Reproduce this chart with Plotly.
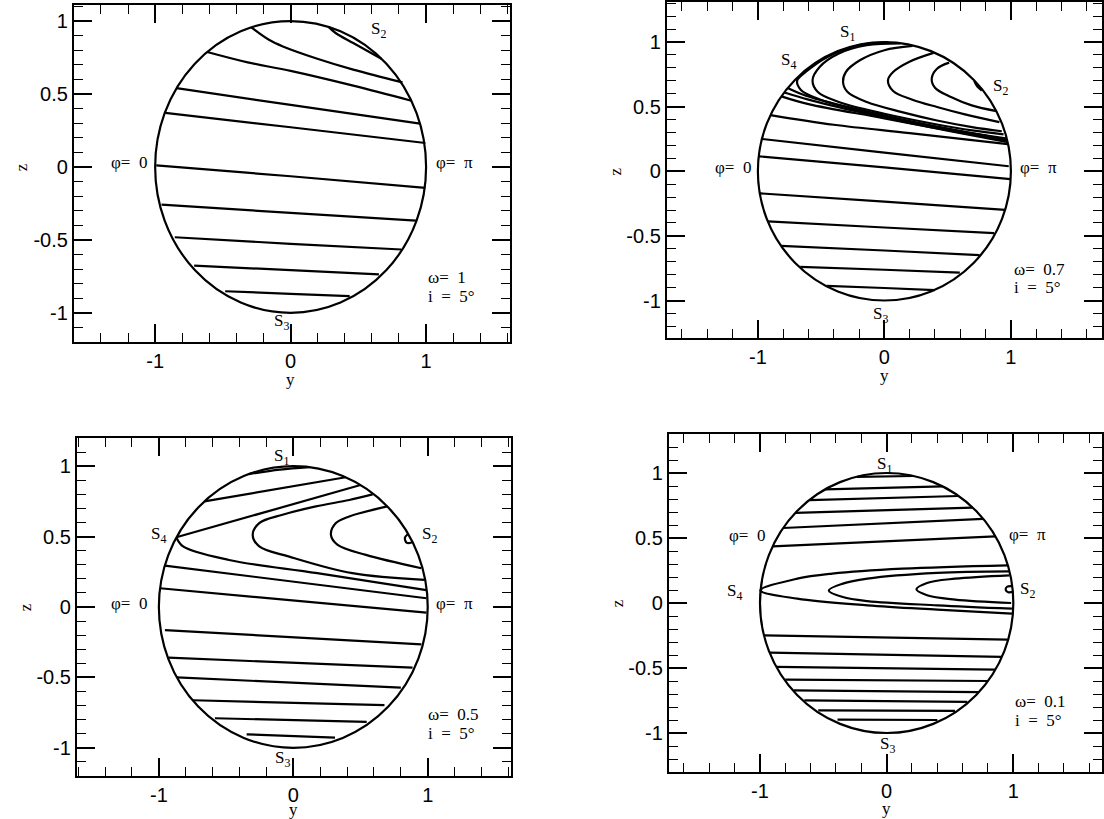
import plotly.graph_objects as go

# ---------------- data (y, z) ----------------
# Panel 1: omega = 1
P1_Y = [
    [-0.29, -0.16, -0.057, 0.203, 0.462, 0.826],
    [0.28, 0.332, 0.462, 0.67],
    [-0.616, -0.317, 0.0, 0.462, 0.891],
    [-0.842, 0.0, 0.956],
    [-0.925, 0.0, 0.995],
    [-0.992, 0.0, 0.995],
    [-0.953, 0.0, 0.925],
    [-0.855, 0.0, 0.818],
    [-0.712, 0.0, 0.652],
    [-0.483, 0.0, 0.436],
]
P1_Z = [
    [0.957, 0.872, 0.826, 0.74, 0.667, 0.58],
    [0.96, 0.918, 0.849, 0.742],
    [0.788, 0.717, 0.658, 0.557, 0.454],
    [0.54, 0.425, 0.297],
    [0.37, 0.272, 0.164],
    [0.011, -0.064, -0.144],
    [-0.258, -0.315, -0.368],
    [-0.482, -0.527, -0.566],
    [-0.676, -0.708, -0.737],
    [-0.852, -0.87, -0.886],
]

# Panel 2: omega = 0.7
P2_Y = [
    [0.512, 0.416, 0.374, 0.40, 0.526, 0.69, 0.886],
    [0.388, 0.194, 0.069, 0.028, 0.069, 0.222, 0.416, 0.637, 0.909],
    [0.222, 0.0, -0.194, -0.305, -0.327, -0.291, -0.139, 0.139, 0.416, 0.693, 0.928],
    [0.125, -0.139, -0.36, -0.512, -0.568, -0.526, -0.36, 0.0, 0.416, 0.693, 0.942],
    [0.03, -0.2, -0.45, -0.62, -0.69, -0.66, -0.52, -0.2, 0.2, 0.6, 0.96],
    [-0.765, -0.62, -0.3, 0.1, 0.5, 0.965],
    [-0.79, -0.6, -0.2, 0.3, 0.97],
    [-0.815, -0.6, 0.0, 0.5, 0.975],
    [-0.90, -0.4, 0.2, 0.975],
    [-0.965, 0.0, 0.983],
    [-0.993, 0.0, 0.997],
    [-0.983, 0.0, 0.956],
    [-0.922, 0.0, 0.867],
    [-0.817, 0.0, 0.753],
    [-0.665, 0.0, 0.596],
    [-0.457, 0.0, 0.40],
    [0.71, 0.735, 0.77],
]
P2_Z = [
    [0.841, 0.794, 0.717, 0.647, 0.574, 0.51, 0.466],
    [0.916, 0.846, 0.768, 0.704, 0.621, 0.554, 0.497, 0.44, 0.38],
    [0.97, 0.937, 0.859, 0.768, 0.691, 0.613, 0.536, 0.458, 0.393, 0.342, 0.31],
    [0.99, 0.975, 0.911, 0.807, 0.704, 0.613, 0.536, 0.445, 0.362, 0.316, 0.285],
    [0.997, 0.975, 0.885, 0.77, 0.70, 0.63, 0.56, 0.47, 0.38, 0.31, 0.255],
    [0.645, 0.585, 0.50, 0.41, 0.33, 0.245],
    [0.61, 0.555, 0.46, 0.355, 0.235],
    [0.58, 0.52, 0.41, 0.315, 0.225],
    [0.435, 0.36, 0.295, 0.21],
    [0.25, 0.145, 0.039],
    [0.116, 0.03, -0.06],
    [-0.171, -0.235, -0.298],
    [-0.388, -0.435, -0.479],
    [-0.577, -0.613, -0.649],
    [-0.74, -0.762, -0.784],
    [-0.887, -0.903, -0.92],
    [0.70, 0.655, 0.625],
]

# Panel 3: omega = 0.5
P3_Y = [
    [-0.33, -0.1, 0.12],
    [-0.661, 0.39],
    [0.50, -0.87],
    [-0.87, -0.82, -0.478, 0.178, 0.99],
    [0.59, 0.416, 0.168, -0.08, -0.253, -0.302, -0.253, -0.03, 0.44, 0.979],
    [0.70, 0.416, 0.317, 0.28, 0.33, 0.54, 0.953],
    [-0.956, 0.99],
    [-0.991, 0.99],
    [-0.955, 0.953],
    [-0.929, 0.887],
    [-0.866, 0.80],
    [-0.746, 0.678],
    [-0.583, 0.546],
    [-0.347, 0.31],
    [0.855, 0.83, 0.845, 0.885],
]
P3_Z = [
    [0.944, 0.975, 0.993],
    [0.75, 0.921],
    [0.866, 0.495],
    [0.495, 0.43, 0.334, 0.24, 0.12],
    [0.80, 0.76, 0.714, 0.655, 0.596, 0.512, 0.43, 0.358, 0.24, 0.192],
    [0.714, 0.643, 0.596, 0.512, 0.441, 0.37, 0.275],
    [0.294, 0.062],
    [0.133, -0.04],
    [-0.164, -0.265],
    [-0.36, -0.43],
    [-0.50, -0.572],
    [-0.662, -0.697],
    [-0.79, -0.816],
    [-0.904, -0.927],
    [0.52, 0.49, 0.455, 0.46],
]

# Panel 4: omega = 0.1
P4_Y = [
    [-0.235, 0.208],
    [-0.485, 0.443],
    [-0.61, 0.568],
    [-0.72, 0.679],
    [-0.817, 0.762],
    [-0.90, 0.859],
    [0.956, 0.125, -0.43, -0.706, -0.997, -0.706, -0.152, 0.40, 0.989],
    [0.97, 0.40, -0.152, -0.346, -0.457, -0.346, -0.152, 0.40, 0.989],
    [0.97, 0.54, 0.319, 0.235, 0.319, 0.54, 0.983],
    [0.99, 0.95, 0.94, 0.96, 0.995],
    [-0.968, 0.956],
    [-0.924, 0.91],
    [-0.871, 0.858],
    [-0.80, 0.80],
    [-0.734, 0.728],
    [-0.65, 0.637],
    [-0.54, 0.54],
    [-0.388, 0.40],
]
P4_Z = [
    [0.97, 0.977],
    [0.874, 0.897],
    [0.792, 0.823],
    [0.694, 0.734],
    [0.577, 0.647],
    [0.436, 0.512],
    [0.29, 0.264, 0.226, 0.187, 0.097, 0.033, -0.018, -0.051, -0.082],
    [0.243, 0.231, 0.187, 0.149, 0.097, 0.046, 0.015, -0.018, -0.044],
    [0.213, 0.187, 0.154, 0.105, 0.059, 0.026, 0.0],
    [0.13, 0.125, 0.10, 0.083, 0.085],
    [-0.249, -0.282],
    [-0.382, -0.415],
    [-0.492, -0.513],
    [-0.59, -0.60],
    [-0.672, -0.685],
    [-0.749, -0.76],
    [-0.826, -0.83],
    [-0.897, -0.90],
]

CIRCLE_R = 1.0
XTICKS = [-1, 0, 1]
XTICKTEXT = ["-1", "0", "1"]
YTICKS = [-1, -0.5, 0, 0.5, 1]
YTICKTEXT = ["-1", "-0.5", "0", "0.5", "1"]
OMEGA_TEXT = ["\u03c9=\u00a0 1", "\u03c9=\u00a0 0.7", "\u03c9=\u00a0 0.5", "\u03c9=\u00a0 0.1"]
INCL_TEXT = "i\u00a0 = \u00a05\u00b0"
PHI0_TEXT = "\u03c6=\u00a0 0"
PHIPI_TEXT = "\u03c6=\u00a0 \u03c0"

# ---------------- figure ----------------
W, H = 1104, 819
# plot boxes in pixels: left, right, top, bottom
BOXES = [(74, 511, 5, 342), (668, 1104, 2, 338), (77, 512, 438, 776), (670, 1104, 434, 772)]
XRANGES = [[-1.6, 1.62], [-1.72, 1.72], [-1.61, 1.62], [-1.72, 1.70]]
YRANGES = [[-1.2, 1.11], [-1.29, 1.31], [-1.2, 1.2], [-1.3, 1.3]]
YTITLE_SHIFT = [-37, -37, -33, -36]

fig = go.Figure()
panels = [(P1_Y, P1_Z), (P2_Y, P2_Z), (P3_Y, P3_Z), (P4_Y, P4_Z)]
for k, (ys, zs) in enumerate(panels):
    sfx = "" if k == 0 else str(k + 1)
    for yy, zz in zip(ys, zs):
        fig.add_trace(go.Scatter(x=yy, y=zz, mode="lines", xaxis="x" + sfx, yaxis="y" + sfx,
                                 line=dict(color="black", width=2.2, shape="spline", smoothing=1.0),
                                 showlegend=False, hoverinfo="skip"))

tickfont = dict(family="Liberation Sans, Arial, sans-serif", size=20, color="black")
lab = dict(family="Liberation Serif, Times New Roman, serif", size=17, color="black")

layout = dict(width=W, height=H, margin=dict(l=0, r=0, t=0, b=0), plot_bgcolor="white",
              paper_bgcolor="white", showlegend=False, shapes=[], annotations=[])
for k in range(4):
    sfx = "" if k == 0 else str(k + 1)
    l, r, t, b = BOXES[k]
    xa = dict(domain=[l / W, r / W], range=XRANGES[k], anchor="y" + sfx,
              showline=True, linecolor="black", linewidth=2, mirror="ticks",
              ticks="inside", ticklen=18, tickwidth=1.5, tickcolor="black",
              tickmode="array", tickvals=XTICKS, ticktext=XTICKTEXT,
              minor=dict(tickmode="linear", tick0=0, dtick=0.2, ticks="inside", ticklen=9,
                         tickwidth=1.3, tickcolor="black", showgrid=False),
              showgrid=False, zeroline=False, tickfont=tickfont, fixedrange=True)
    ya = dict(domain=[1 - b / H, 1 - t / H], range=YRANGES[k], anchor="x" + sfx,
              showline=True, linecolor="black", linewidth=2, mirror="ticks",
              ticks="inside", ticklen=18, tickwidth=1.5, tickcolor="black",
              tickmode="array", tickvals=YTICKS, ticktext=YTICKTEXT,
              minor=dict(tickmode="linear", tick0=0, dtick=0.1, ticks="inside", ticklen=9,
                         tickwidth=1.3, tickcolor="black", showgrid=False),
              showgrid=False, zeroline=False, tickfont=tickfont, fixedrange=True)
    layout["xaxis" + sfx] = xa
    layout["yaxis" + sfx] = ya
    layout["shapes"].append(dict(type="circle", xref="x" + sfx, yref="y" + sfx,
                                 x0=-CIRCLE_R, x1=CIRCLE_R, y0=-CIRCLE_R, y1=CIRCLE_R,
                                 line=dict(color="black", width=2.2)))
    # axis titles
    layout["annotations"].append(dict(text="y", x=0, xref="x" + sfx, y=0, yref="y" + sfx + " domain",
                                      yanchor="middle", yshift=YTITLE_SHIFT[k], showarrow=False, font=lab))
    layout["annotations"].append(dict(text="z", x=0, xref="x" + sfx + " domain", xshift=-63,
                                      y=0, yref="y" + sfx, textangle=-90, showarrow=False, font=lab))

def ann(k, text, x, y, xanchor="center"):
    sfx = "" if k == 0 else str(k + 1)
    layout["annotations"].append(dict(text=text, x=x, y=y, xref="x" + sfx, yref="y" + sfx,
                                      xanchor=xanchor, yanchor="middle", showarrow=False, font=lab))

S = lambda n: "S<sub>%d</sub>" % n
# panel 1
ann(0, S(2), 0.65, 0.94)
ann(0, PHI0_TEXT, -1.19, 0.03)
ann(0, PHIPI_TEXT, 1.21, 0.03)
ann(0, S(3), -0.07, -1.06)
ann(0, OMEGA_TEXT[0], 1.0, -0.76, "left")
ann(0, INCL_TEXT, 1.0, -0.885, "left")
# panel 2
ann(1, S(1), -0.29, 1.07)
ann(1, S(4), -0.755, 0.85)
ann(1, S(2), 0.915, 0.65)
ann(1, PHI0_TEXT, -1.2, 0.03)
ann(1, PHIPI_TEXT, 1.215, 0.03)
ann(1, S(3), -0.03, -1.11)
ann(1, OMEGA_TEXT[1], 1.01, -0.76, "left")
ann(1, INCL_TEXT, 1.01, -0.90, "left")
# panel 3
ann(2, S(1), -0.09, 1.066)
ann(2, S(4), -1.0, 0.51)
ann(2, S(2), 1.01, 0.51)
ann(2, PHI0_TEXT, -1.22, 0.024)
ann(2, PHIPI_TEXT, 1.2, 0.024)
ann(2, S(3), -0.08, -1.08)
ann(2, OMEGA_TEXT[2], 0.99, -0.76, "left")
ann(2, INCL_TEXT, 0.99, -0.90, "left")
# panel 4
ann(3, S(1), -0.015, 1.06)
ann(3, PHI0_TEXT, -1.1, 0.52)
ann(3, PHIPI_TEXT, 1.11, 0.53)
ann(3, S(4), -1.2, 0.085)
ann(3, S(2), 1.115, 0.10)
ann(3, S(3), 0.005, -1.095)
ann(3, OMEGA_TEXT[3], 1.0, -0.76, "left")
ann(3, INCL_TEXT, 1.0, -0.90, "left")

fig.update_layout(**layout)
fig.write_html("out.html")
